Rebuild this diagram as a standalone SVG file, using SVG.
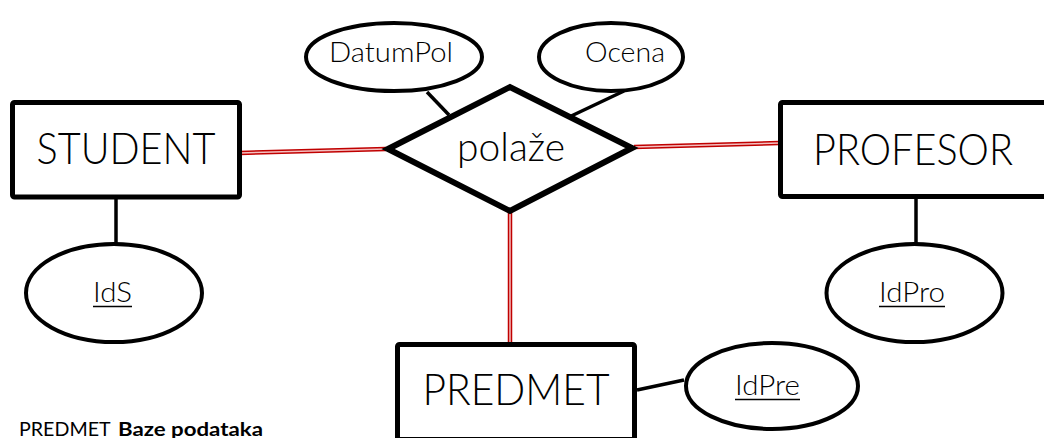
<svg xmlns="http://www.w3.org/2000/svg" width="1044" height="438" viewBox="0 0 1044 438">
<style>
.ent{fill:#fff;stroke:#000;stroke-width:5}
.rel{fill:#fff;stroke:#000;stroke-width:6;stroke-linejoin:miter}
.att{fill:#fff;stroke:#000;stroke-width:4}
.ln{stroke:#000;stroke-width:3.5;fill:none}
.dbl{stroke:#c00000;stroke-width:4.5;fill:none}
.dbli{stroke:#f4c0c0;stroke-width:1.5;fill:none}
.t{font-family:Lato,"Open Sans","Liberation Sans",sans-serif;font-weight:300;fill:#000;text-anchor:middle}
.big{font-size:43px}
.sm{font-size:27px}
.ul{stroke:#000;stroke-width:1.5}
.foot{font-family:Lato,"Open Sans","Liberation Sans",sans-serif;font-size:19px;fill:#000}
</style>
<rect width="1044" height="438" fill="#fff"/>
<g id="connectors">
<line class="ln" x1="116" y1="199" x2="116" y2="244"/>
<line class="ln" x1="916" y1="198" x2="916" y2="244"/>
<line class="ln" x1="427" y1="92" x2="449" y2="115"/>
<line class="ln" x1="624" y1="91" x2="567" y2="118"/>
<line class="ln" x1="637" y1="390" x2="684" y2="380"/>
<line class="dbl" x1="240" y1="153" x2="386" y2="149"/>
<line class="dbli" x1="240" y1="153" x2="386" y2="149"/>
<line class="dbl" x1="634" y1="147" x2="779" y2="143"/>
<line class="dbli" x1="634" y1="147" x2="779" y2="143"/>
<line class="dbl" x1="510" y1="212" x2="510" y2="343"/>
<line class="dbli" x1="510" y1="212" x2="510" y2="343"/>
</g>
<g id="STUDENT">
<rect class="ent" x="12.5" y="102.5" width="227" height="94.5" rx="2"/>
<text class="t big" x="126" y="164" textLength="179" lengthAdjust="spacingAndGlyphs">STUDENT</text>
</g>
<g id="PROFESOR">
<rect class="ent" x="780.5" y="102.5" width="300" height="94" rx="2"/>
<text class="t big" x="913" y="165" textLength="200" lengthAdjust="spacingAndGlyphs">PROFESOR</text>
</g>
<g id="PREDMET">
<rect class="ent" x="397.5" y="344.5" width="237" height="95" rx="2"/>
<text class="t big" x="516" y="405" textLength="187" lengthAdjust="spacingAndGlyphs">PREDMET</text>
</g>
<g id="polaze">
<polygon class="rel" points="388,149 510,87 632,148 510,211"/>
<text class="t" font-size="40" x="511" y="161" textLength="108" lengthAdjust="spacingAndGlyphs">polaže</text>
</g>
<g id="DatumPol">
<ellipse class="att" cx="394" cy="57" rx="88" ry="34"/>
<text class="t sm" x="391" y="62" textLength="124" lengthAdjust="spacingAndGlyphs">DatumPol</text>
</g>
<g id="Ocena">
<ellipse class="att" cx="611" cy="57" rx="72" ry="34"/>
<text class="t sm" x="625" y="62" textLength="80" lengthAdjust="spacingAndGlyphs">Ocena</text>
</g>
<g id="IdS">
<ellipse class="att" cx="114" cy="293" rx="88" ry="49"/>
<text class="t sm" x="112.5" y="302" textLength="39" lengthAdjust="spacingAndGlyphs">IdS</text>
<line class="ul" x1="93" y1="306.5" x2="132" y2="306.5"/>
</g>
<g id="IdPro">
<ellipse class="att" cx="914.5" cy="293" rx="88" ry="49"/>
<text class="t sm" x="912" y="302" textLength="66" lengthAdjust="spacingAndGlyphs">IdPro</text>
<line class="ul" x1="879" y1="306.5" x2="945" y2="306.5"/>
</g>
<g id="IdPre">
<ellipse class="att" cx="772" cy="386" rx="86" ry="43"/>
<text class="t sm" x="767.5" y="395" textLength="65" lengthAdjust="spacingAndGlyphs">IdPre</text>
<line class="ul" x1="735" y1="399.5" x2="800" y2="399.5"/>
</g>
<text class="foot" x="19" y="436"><tspan textLength="91" lengthAdjust="spacingAndGlyphs">PREDMET</tspan> <tspan x="118" font-weight="bold" textLength="145" lengthAdjust="spacingAndGlyphs">Baze podataka</tspan></text>
</svg>
